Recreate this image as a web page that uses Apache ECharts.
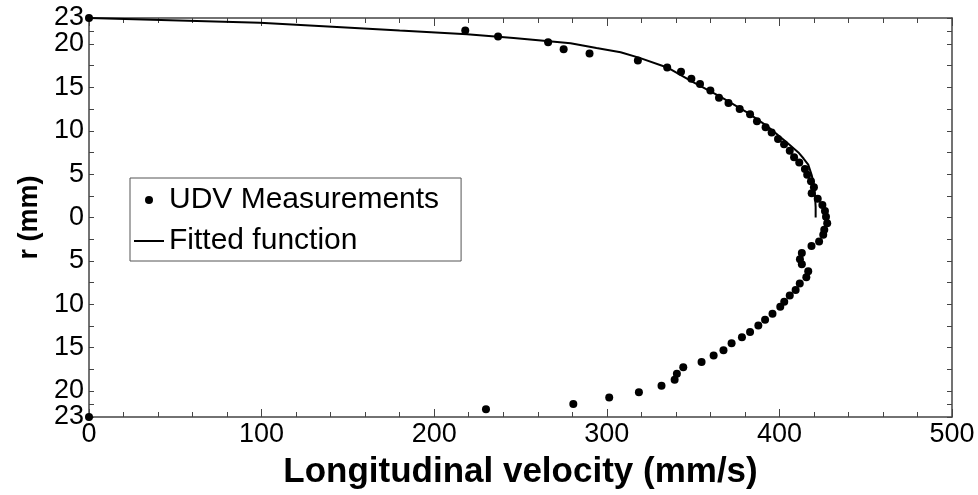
<!DOCTYPE html>
<html><head><meta charset="utf-8">
<script src="https://cdn.jsdelivr.net/npm/echarts@6/dist/echarts.min.js"></script>
<style>html,body{margin:0;padding:0;background:#fff}#c{width:978px;height:495px}</style>
</head><body><div id="c"></div>
<script>
// UDV measurements: radius r (mm, signed) and longitudinal velocity (mm/s)
const measR = [23,21.55,20.87,20.2,19.4,18.9,18.1,17.3,16.8,16.0,15.4,14.65,13.8,13.2,12.5,11.9,11.1,10.4,9.8,9.05,8.45,7.7,6.95,6.34,5.6,4.93,4.18,3.5,2.8,2.16,1.45,0.76,0.08,-0.65,-1.4,-2.0,-2.77,-3.3,-4.1,-4.8,-5.4,-6.2,-6.9,-7.6,-8.35,-9.0,-9.7,-10.3,-11.1,-11.8,-12.45,-13.2,-13.8,-14.5,-15.3,-15.9,-16.66,-17.27,-18.0,-18.7,-19.4,-20.15,-20.76,-21.5,-22.1,-23];
const measV = [0,218,237,266,275,290,318,335,343,349,354,360,365,370.5,377,383,387,392,395.5,399.2,402.7,406,408.5,411.5,414.8,416.1,418.3,420,418.7,422.2,424.9,426.4,427,427.7,426,425.4,423,418.6,413,411.9,413,416.7,415.6,411.8,409.4,406,402.8,400.5,396,391.7,387.8,383,378.3,372.3,367.6,361.9,354.9,344.3,340.6,339.3,331.7,318.6,301.4,280.6,230,0];
// Fitted function
const fitV = [0,99,141,180,219,246,265,279,294,308,319,335,350,366,381,392.5,404,411,414,416.7,418.7,420,420.6,421,421];
const fitR = [23,22.45,22.0,21.55,21.13,20.7,20.35,20.1,19.55,19.05,18.4,17.3,15.6,13.9,12.15,10.6,8.7,7.5,6.8,6.1,4.9,3.8,2.6,1.2,0];
// Axis labels / ticks
const yLabelVals = [-20,-15,-10,-5,0,5,10,15,20];
const yEndLabelVals = [-23,23];
const yTickVals = [-23,-21.5,-20,-17.5,-15,-12.5,-10,-7.5,-5,-2.5,0,2.5,5,7.5,10,12.5,15,17.5,20,21.5,23];
const xMin = 0, xMax = 500, xStep = 100;
const seriesNames = ['UDV Measurements','Fitted function'];
const xTitle = 'Longitudinal velocity (mm/s)';
const yTitle = 'r (mm)';

const FONT = '"Liberation Sans", Arial, sans-serif';
const AX = '#444';
const chart = echarts.init(document.getElementById('c'), null, {renderer:'canvas'});
const xBase = {type:'value', min:xMin, max:xMax, interval:xStep,
  axisLine:{onZero:false,lineStyle:{color:AX,width:1.5}}, splitLine:{show:false},
  axisTick:{inside:true,length:8,lineStyle:{color:AX}},
  minorTick:{show:true,splitNumber:5,length:5,lineStyle:{color:AX}}};
const yBase = {type:'value', min:-23, max:23,
  axisLine:{onZero:false,lineStyle:{color:AX,width:1.5}}, splitLine:{show:false},
  axisTick:{inside:true,length:5,customValues:yTickVals,lineStyle:{color:AX}}};
const yLab = {fontFamily:FONT,fontSize:27,color:'#000',margin:5,
  showMinLabel:true,showMaxLabel:true,hideOverlap:false, formatter:v=>String(Math.abs(v))};
chart.setOption({
  animation:false,
  backgroundColor:'#fff',
  grid:{left:89,right:26,top:18,bottom:73,containLabel:false},
  xAxis:[
    Object.assign({}, xBase, {position:'bottom',
      name:xTitle, nameLocation:'middle', nameGap:38,
      nameTextStyle:{fontFamily:FONT,fontWeight:'bold',fontSize:35,color:'#000'},
      axisLabel:{fontFamily:FONT,fontSize:27,color:'#000',margin:4,
        showMinLabel:true,showMaxLabel:true,hideOverlap:false}}),
    Object.assign({}, xBase, {position:'top', axisLabel:{show:false}})
  ],
  yAxis:[
    Object.assign({}, yBase, {position:'left',
      name:yTitle, nameLocation:'middle', nameGap:45,
      nameTextStyle:{fontFamily:FONT,fontWeight:'bold',fontSize:27,color:'#000'},
      axisLabel:Object.assign({customValues:yLabelVals}, yLab)}),
    Object.assign({}, yBase, {position:'right', axisLabel:{show:false}}),
    {type:'value', min:-23, max:23, position:'left', offset:0,
     axisLine:{show:false}, axisTick:{show:false}, splitLine:{show:false},
     axisLabel:Object.assign({customValues:yEndLabelVals}, yLab)}
  ],
  legend:{
    orient:'vertical', left:130, top:178,
    backgroundColor:'#fff', borderColor:'#555', borderWidth:1,
    padding:[6,22,4,3], itemGap:9, itemWidth:30, itemHeight:8,
    textStyle:{fontFamily:FONT,fontSize:30,color:'#000',lineHeight:32},
    data:[{name:seriesNames[0],icon:'circle'},
          {name:seriesNames[1],itemStyle:{opacity:0},lineStyle:{color:'#000',width:2,opacity:1}}]
  },
  series:[
    {name:seriesNames[0], type:'scatter', xAxisIndex:0, yAxisIndex:0,
     symbol:'circle', symbolSize:8, itemStyle:{color:'#000',opacity:1},
     data: measV.map((v,i)=>[v, measR[i]]), z:3},
    {name:seriesNames[1], type:'line', xAxisIndex:0, yAxisIndex:0,
     symbol:'none', showSymbol:false, lineStyle:{color:'#000',width:2}, itemStyle:{color:'#000'},
     data: fitV.map((v,i)=>[v, fitR[i]]), z:2}
  ]
});
</script></body></html>
